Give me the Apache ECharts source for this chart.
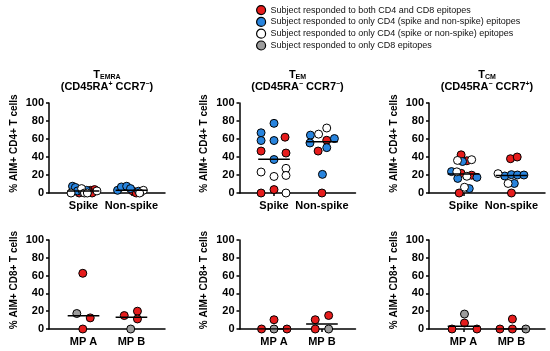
<!DOCTYPE html>
<html><head><meta charset="utf-8">
<script src="https://cdn.jsdelivr.net/npm/echarts@6/dist/echarts.min.js"></script>
<style>html,body{margin:0;padding:0;background:#fff}#c{width:550px;height:351px}</style>
</head><body><div id="c"></div>
<script>
// ---------- DATA ----------
const legendNames = [
  'Subject responded to both CD4 and CD8 epitopes',
  'Subject responded to only CD4 (spike and non-spike) epitopes',
  'Subject responded to only CD4 (spike or non-spike) epitopes',
  'Subject responded to only CD8 epitopes'
];
const topCategories = ['Spike', 'Non-spike'];
const bottomCategories = ['MP A', 'MP B'];
const yTickValues = [0, 20, 40, 60, 80, 100];
const panelTitles = [
  ['EMRA', '+', '\u2212'],
  ['EM', '\u2212', '\u2212'],
  ['CM', '\u2212', '+']
];
const topYName = '% AIM+ CD4+ T cells';
const bottomYName = '% AIM+ CD8+ T cells';

// group codes: r = both CD4 & CD8, b = CD4 spike and non-spike, w = CD4 spike or non-spike, g = CD8 only
// TEMRA (CD4)
const temraSpikeValues = [7.5, 6.2, 2.3, 3.0, 1.5, 0, 3.0, 3.8, 0, 2.0, 0, 4.9, 0, 2.3, 0];
const temraSpikeGroups = ['b','b','b','b','b','r','r','r','r','r','w','w','w','w','w'];
const temraSpikeJitter = [-0.23,-0.17,-0.125,0.06,-0.02,-0.09,0.15,0.23,0.18,0.1,-0.26,-0.04,0.02,0.28,0.08];
const temraNonSpikeValues = [3.0, 6.7, 7.5, 4.9, 2.0, 2.5, 0, 0.8, 3.0, 0];
const temraNonSpikeGroups = ['b','b','b','b','b','r','r','r','w','w'];
const temraNonSpikeJitter = [-0.29,-0.21,-0.1,-0.02,0.15,0.02,0.1,0.19,0.25,0.17];
const temraMedians = [2.3, 3.0];
// TEM (CD4)
const temSpikeValues = [66.9, 77.4, 58.3, 58.3, 37.2, 62, 46.6, 44.4, 0, 3.8, 23.3, 27.4, 18.4, 19.5, 0];
const temSpikeGroups = ['b','b','b','b','b','r','r','r','r','r','w','w','w','w','w'];
const temSpikeJitter = [-0.27,0,-0.27,0,0,0.23,-0.27,0.25,-0.27,0,-0.27,0.25,0,0.25,0.25];
const temNonSpikeValues = [64.3, 55.6, 60.5, 50.4, 20.7, 58.6, 46.6, 0, 65.4, 72.2];
const temNonSpikeGroups = ['b','b','b','b','b','r','r','r','w','w'];
const temNonSpikeJitter = [-0.24,-0.25,0.26,0.1,0.01,0.1,-0.08,0,-0.07,0.1];
const temMedians = [37.5, 57];
// TCM (CD4)
const tcmSpikeValues = [35, 23.8, 17.4, 16.2, 4.9, 42.4, 35.8, 21.9, 19.8, 0, 36.2, 37, 23.5, 18.6, 6.4];
const tcmSpikeGroups = ['b','b','b','b','b','r','r','r','r','r','w','w','w','w','w'];
const tcmSpikeJitter = [-0.02,-0.25,0.28,-0.12,0.12,-0.05,0.07,-0.05,0.17,-0.09,-0.125,0.17,-0.14,0.07,0.02];
const tcmNonSpikeValues = [18.9, 20.4, 20, 20, 10.6, 38.1, 40, 0, 21.5, 10.6];
const tcmNonSpikeGroups = ['b','b','b','b','b','r','r','r','w','w'];
const tcmNonSpikeJitter = [-0.14,0,0.125,0.26,0.06,-0.02,0.12,0,-0.28,-0.07];
const tcmMedians = [21, 19.5];
// CD8 panels
const cd8TemraAValues = [62.6, 12.5, 0, 17.4];
const cd8TemraAGroups = ['r','r','r','g'];
const cd8TemraAJitter = [-0.015,0.14,-0.015,-0.14];
const cd8TemraBValues = [15.1, 20, 11.3, 0];
const cd8TemraBGroups = ['r','r','r','g'];
const cd8TemraBJitter = [-0.15,0.125,0.125,-0.015];
const cd8TemraMedians = [14.9, 13.2];
const cd8TemAValues = [0, 10.4, 0, 0];
const cd8TemAGroups = ['r','r','r','g'];
const cd8TemAJitter = [-0.26,0,0.27,0];
const cd8TemBValues = [10.4, 0, 15.2, 0];
const cd8TemBGroups = ['r','r','r','g'];
const cd8TemBJitter = [-0.14,-0.14,0.14,0.14];
const cd8TemMedians = [0, 5.6];
const cd8TcmAValues = [6.7, 0, 0, 16.8];
const cd8TcmAGroups = ['r','r','r','g'];
const cd8TcmAJitter = [0.02,-0.24,0.28,0.02];
const cd8TcmBValues = [0, 11.2, 0, 0];
const cd8TcmBGroups = ['r','r','r','g'];
const cd8TcmBJitter = [-0.24,0.02,0.02,0.3];
const cd8TcmMedians = [3, 0];

// ---------- CHART ----------
const FONT = '"Liberation Sans", Arial, sans-serif';
const colorOf = {r:'#e61c1c', b:'#2884de', w:'#ffffff', g:'#9c9c9c'};
const groupKeys = ['r','b','w','g'];
const lefts = [49, 239.5, 429];
const panels = [
  {row:0,col:0,cats:topCategories,yName:topYName,medians:temraMedians,cols:[[temraSpikeValues,temraSpikeGroups,temraSpikeJitter],[temraNonSpikeValues,temraNonSpikeGroups,temraNonSpikeJitter]]},
  {row:0,col:1,cats:topCategories,yName:topYName,medians:temMedians,cols:[[temSpikeValues,temSpikeGroups,temSpikeJitter],[temNonSpikeValues,temNonSpikeGroups,temNonSpikeJitter]]},
  {row:0,col:2,cats:topCategories,yName:topYName,medians:tcmMedians,cols:[[tcmSpikeValues,tcmSpikeGroups,tcmSpikeJitter],[tcmNonSpikeValues,tcmNonSpikeGroups,tcmNonSpikeJitter]]},
  {row:1,col:0,cats:bottomCategories,yName:bottomYName,medians:cd8TemraMedians,cols:[[cd8TemraAValues,cd8TemraAGroups,cd8TemraAJitter],[cd8TemraBValues,cd8TemraBGroups,cd8TemraBJitter]]},
  {row:1,col:1,cats:bottomCategories,yName:bottomYName,medians:cd8TemMedians,cols:[[cd8TemAValues,cd8TemAGroups,cd8TemAJitter],[cd8TemBValues,cd8TemBGroups,cd8TemBJitter]]},
  {row:1,col:2,cats:bottomCategories,yName:bottomYName,medians:cd8TcmMedians,cols:[[cd8TcmAValues,cd8TcmAGroups,cd8TcmAJitter],[cd8TcmBValues,cd8TcmBGroups,cd8TcmBJitter]]}
];
const axisLineStyle = {color:'#000', width:1.5};
const labelStyle = {color:'#000', fontWeight:'bold', fontSize:11, fontFamily:FONT};
const nameStyle = {color:'#000', fontWeight:'bold', fontSize:10, fontFamily:FONT, padding:[0,0,0,9]};
const grids=[], xAxes=[], yAxes=[], series=[], titles=[];
panels.forEach((p,i)=>{
  grids.push({left:lefts[p.col], top:p.row?240:103, width:116, height:p.row?89:90});
  xAxes.push({gridIndex:i, type:'value', min:-0.72, max:1.70,
    axisLine:{show:true, onZero:false, lineStyle:axisLineStyle},
    axisTick:{show:true, customValues:[0,1], length:3, lineStyle:axisLineStyle},
    axisLabel:Object.assign({customValues:[0,1], formatter:v=>p.cats[Math.round(v)], margin:7}, labelStyle),
    splitLine:{show:false}});
  yAxes.push({gridIndex:i, type:'value', min:yTickValues[0], max:yTickValues[yTickValues.length-1], interval:yTickValues[1]-yTickValues[0],
    axisLine:{show:true, onZero:false, lineStyle:axisLineStyle},
    axisTick:{show:true, length:3, lineStyle:axisLineStyle},
    axisLabel:Object.assign({margin:5}, labelStyle),
    splitLine:{show:false},
    name:p.yName, nameLocation:'middle', nameGap:30, nameTextStyle:nameStyle});
  groupKeys.forEach((g,gi)=>{
    const data=[];
    p.cols.forEach((col,ci)=>{
      const [vals,grps,jit]=col;
      vals.forEach((v,k)=>{ if(grps[k]===g) data.push([ci+jit[k], v]); });
    });
    if(data.length) series.push({type:'scatter', name:legendNames[gi], xAxisIndex:i, yAxisIndex:i, data,
      symbol:'circle', symbolSize:8, clip:false,
      itemStyle:{color:colorOf[g], borderColor:'#000', borderWidth:1, opacity:1},
      emphasis:{disabled:true}, z:3});
  });
  p.medians.forEach((m,ci)=>{
    series.push({type:'line', xAxisIndex:i, yAxisIndex:i, data:[[ci-0.33,m],[ci+0.33,m]],
      symbol:'none', lineStyle:{color:'#000', width:1.5}, z:4, silent:true});
  });
});
panelTitles.forEach((t,c)=>{
  titles.push({left:lefts[c]+58, top:69, textAlign:'center', padding:0,
    text:'{t|T}{s|'+t[0]+'}\n{p|(CD45RA}{u|'+t[1]+'}{p| CCR7}{u|'+t[2]+'}{p|)}',
    textStyle:{rich:{
      t:{fontSize:11, fontWeight:'bold', fontFamily:FONT, color:'#000', lineHeight:12},
      s:{fontSize:7, fontWeight:'bold', fontFamily:FONT, color:'#000', lineHeight:12, verticalAlign:'bottom'},
      p:{fontSize:11, fontWeight:'bold', fontFamily:FONT, color:'#000', lineHeight:12},
      u:{fontSize:7, fontWeight:'bold', fontFamily:FONT, color:'#000', lineHeight:12, verticalAlign:'top'}
    }}});
});
const chart = echarts.init(document.getElementById('c'));
chart.setOption({
  animation:false,
  backgroundColor:'#fff',
  title:titles,
  legend:{data:legendNames, orient:'vertical', left:251, top:0, itemWidth:9, itemHeight:9, itemGap:1.6,
    icon:'circle', itemStyle:{borderColor:'#000', borderWidth:1.2},
    textStyle:{fontSize:9, fontFamily:FONT, color:'#111', lineHeight:9.5}, selectedMode:false},
  grid:grids, xAxis:xAxes, yAxis:yAxes, series
});
</script></body></html>
